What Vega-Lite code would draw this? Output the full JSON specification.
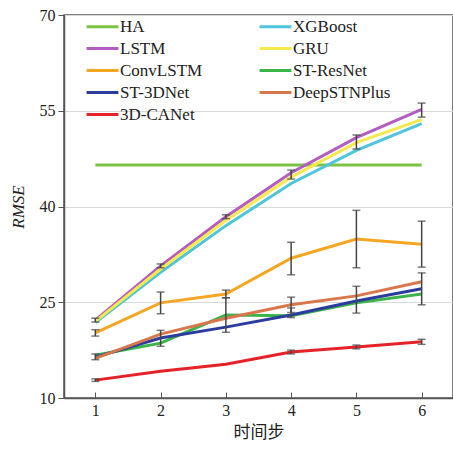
{
  "$schema": "https://vega.github.io/schema/vega-lite/v6.json",
  "width": 389,
  "height": 383,
  "autosize": {"type": "none"},
  "padding": {"left": 64, "top": 15, "right": 0, "bottom": 56},
  "background": "white",
  "config": {
    "view": {"stroke": "#555", "strokeWidth": 1.5},
    "font": "Liberation Serif",
    "axis": {"labelFont": "Liberation Serif", "labelFontSize": 16, "labelColor": "#222", "titleColor": "#222", "domainColor": "#555", "tickColor": "#555", "domainWidth": 1.5, "gridColor": "#d9d9d9"},
    "legend": {"labelFont": "Liberation Serif"}
  },
  "datasets": {
    "lines": [
      {"model": "HA", "step": 1, "rmse": 46.5}, {"model": "HA", "step": 2, "rmse": 46.5}, {"model": "HA", "step": 3, "rmse": 46.5}, {"model": "HA", "step": 4, "rmse": 46.5}, {"model": "HA", "step": 5, "rmse": 46.5}, {"model": "HA", "step": 6, "rmse": 46.5},
      {"model": "XGBoost", "step": 1, "rmse": 21.8}, {"model": "XGBoost", "step": 2, "rmse": 29.7}, {"model": "XGBoost", "step": 3, "rmse": 37.0}, {"model": "XGBoost", "step": 4, "rmse": 43.6}, {"model": "XGBoost", "step": 5, "rmse": 48.8}, {"model": "XGBoost", "step": 6, "rmse": 53.0},
      {"model": "LSTM", "step": 1, "rmse": 22.2}, {"model": "LSTM", "step": 2, "rmse": 30.7}, {"model": "LSTM", "step": 3, "rmse": 38.4}, {"model": "LSTM", "step": 4, "rmse": 45.3}, {"model": "LSTM", "step": 5, "rmse": 50.8}, {"model": "LSTM", "step": 6, "rmse": 55.2},
      {"model": "GRU", "step": 1, "rmse": 22.0}, {"model": "GRU", "step": 2, "rmse": 30.2}, {"model": "GRU", "step": 3, "rmse": 37.8}, {"model": "GRU", "step": 4, "rmse": 44.6}, {"model": "GRU", "step": 5, "rmse": 50.0}, {"model": "GRU", "step": 6, "rmse": 53.6},
      {"model": "ConvLSTM", "step": 1, "rmse": 20.2}, {"model": "ConvLSTM", "step": 2, "rmse": 24.9}, {"model": "ConvLSTM", "step": 3, "rmse": 26.3}, {"model": "ConvLSTM", "step": 4, "rmse": 31.9}, {"model": "ConvLSTM", "step": 5, "rmse": 34.9}, {"model": "ConvLSTM", "step": 6, "rmse": 34.1},
      {"model": "ST-ResNet", "step": 1, "rmse": 16.7}, {"model": "ST-ResNet", "step": 2, "rmse": 18.6}, {"model": "ST-ResNet", "step": 3, "rmse": 23.0}, {"model": "ST-ResNet", "step": 4, "rmse": 22.9}, {"model": "ST-ResNet", "step": 5, "rmse": 24.9}, {"model": "ST-ResNet", "step": 6, "rmse": 26.3},
      {"model": "ST-3DNet", "step": 1, "rmse": 16.4}, {"model": "ST-3DNet", "step": 2, "rmse": 19.4}, {"model": "ST-3DNet", "step": 3, "rmse": 21.1}, {"model": "ST-3DNet", "step": 4, "rmse": 23.0}, {"model": "ST-3DNet", "step": 5, "rmse": 25.2}, {"model": "ST-3DNet", "step": 6, "rmse": 27.1},
      {"model": "DeepSTNPlus", "step": 1, "rmse": 16.2}, {"model": "DeepSTNPlus", "step": 2, "rmse": 20.0}, {"model": "DeepSTNPlus", "step": 3, "rmse": 22.5}, {"model": "DeepSTNPlus", "step": 4, "rmse": 24.6}, {"model": "DeepSTNPlus", "step": 5, "rmse": 26.0}, {"model": "DeepSTNPlus", "step": 6, "rmse": 28.2},
      {"model": "3D-CANet", "step": 1, "rmse": 12.8}, {"model": "3D-CANet", "step": 2, "rmse": 14.2}, {"model": "3D-CANet", "step": 3, "rmse": 15.3}, {"model": "3D-CANet", "step": 4, "rmse": 17.2}, {"model": "3D-CANet", "step": 5, "rmse": 18.0}, {"model": "3D-CANet", "step": 6, "rmse": 18.8}
    ],
    "errs": [
      {"model": "LSTM", "step": 1, "lo": 21.9, "hi": 22.5},
      {"model": "LSTM", "step": 2, "lo": 30.4, "hi": 31.0},
      {"model": "LSTM", "step": 3, "lo": 38.1, "hi": 38.7},
      {"model": "LSTM", "step": 4, "lo": 44.3, "hi": 45.7},
      {"model": "GRU", "step": 5, "lo": 49.0, "hi": 51.2},
      {"model": "LSTM", "step": 6, "lo": 54.0, "hi": 56.2},
      {"model": "ConvLSTM", "step": 1, "lo": 19.7, "hi": 20.7},
      {"model": "ConvLSTM", "step": 2, "lo": 23.2, "hi": 26.6},
      {"model": "ConvLSTM", "step": 3, "lo": 25.7, "hi": 26.9},
      {"model": "ConvLSTM", "step": 4, "lo": 29.3, "hi": 34.4},
      {"model": "ConvLSTM", "step": 5, "lo": 30.4, "hi": 39.4},
      {"model": "ConvLSTM", "step": 6, "lo": 30.5, "hi": 37.7},
      {"model": "ST-3DNet", "step": 1, "lo": 16.0, "hi": 16.9},
      {"model": "ST-3DNet", "step": 2, "lo": 18.1, "hi": 20.6},
      {"model": "ST-ResNet", "step": 3, "lo": 20.3, "hi": 25.7},
      {"model": "DeepSTNPlus", "step": 4, "lo": 23.4, "hi": 25.8},
      {"model": "ST-3DNet", "step": 4, "lo": 22.6, "hi": 24.1},
      {"model": "ST-3DNet", "step": 5, "lo": 23.3, "hi": 27.5},
      {"model": "ST-3DNet", "step": 6, "lo": 24.6, "hi": 29.6},
      {"model": "3D-CANet", "step": 1, "lo": 12.6, "hi": 13.0},
      {"model": "3D-CANet", "step": 4, "lo": 16.9, "hi": 17.5},
      {"model": "3D-CANet", "step": 5, "lo": 17.7, "hi": 18.3},
      {"model": "3D-CANet", "step": 6, "lo": 18.4, "hi": 19.2}
    ]
  },
  "layer": [
    {
      "data": {"name": "lines"},
      "mark": {"type": "line", "strokeWidth": 3},
      "encoding": {
        "x": {"field": "step", "type": "quantitative", "title": "时间步", "scale": {"domain": [0.52, 6.48], "nice": false}, "axis": {"values": [1, 2, 3, 4, 5, 6], "format": "d", "labelFont": "Liberation Serif", "titleFont": "Noto Sans CJK SC", "titleFontSize": 17, "titleFontWeight": "normal", "titlePadding": 6, "tickSize": -6, "grid": false, "labelPadding": 10}},
        "y": {"field": "rmse", "type": "quantitative", "title": "RMSE", "scale": {"domain": [10, 70], "nice": false}, "axis": {"values": [10, 25, 40, 55, 70], "labelFont": "Liberation Serif", "titleFont": "Liberation Serif", "titleFontStyle": "italic", "titleFontWeight": "normal", "titleFontSize": 17, "titlePadding": 12, "tickSize": 6, "grid": true, "labelPadding": 3}},
        "color": {
          "field": "model", "type": "nominal",
          "scale": {
            "domain": ["HA", "LSTM", "ConvLSTM", "ST-3DNet", "3D-CANet", "XGBoost", "GRU", "ST-ResNet", "DeepSTNPlus"],
            "range": ["#7cc243", "#b45cc0", "#f5a623", "#2c3c9e", "#e62229", "#4fc4da", "#f6e94c", "#3bb54a", "#d9774c"]
          },
          "legend": {
            "title": null, "orient": "none", "legendX": 26, "legendY": -1, "columns": 2, "columnPadding": 50, "rowPadding": 1,
            "symbolType": "M-1.45,0H1.45", "symbolSize": 484, "symbolStrokeWidth": 3,
            "labelFont": "Liberation Serif", "labelFontSize": 17, "labelColor": "#222", "labelOffset": 5, "padding": 0
          }
        }
      }
    },
    {
      "data": {"name": "errs"},
      "mark": {"type": "errorbar", "color": "#444", "thickness": 1.5, "ticks": {"size": 8, "thickness": 1.5, "color": "#444"}},
      "encoding": {
        "x": {"field": "step", "type": "quantitative"},
        "y": {"field": "lo", "type": "quantitative", "title": "RMSE"},
        "y2": {"field": "hi"}
      }
    }
  ]
}
